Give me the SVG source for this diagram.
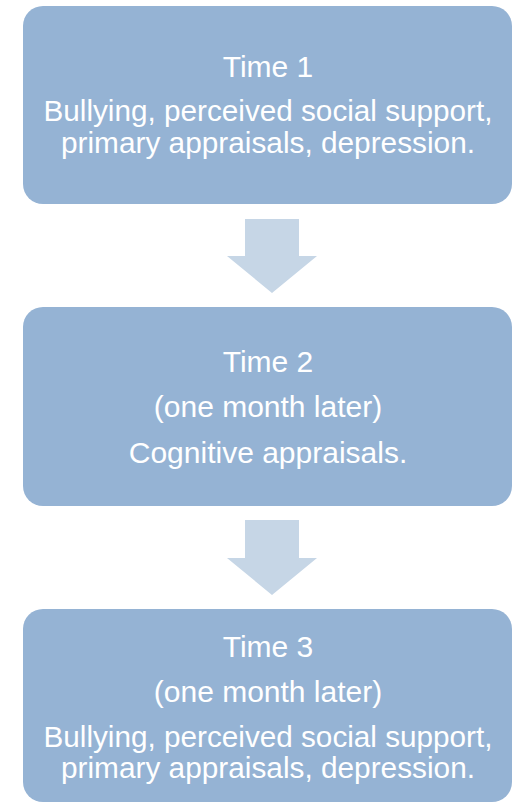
<svg xmlns="http://www.w3.org/2000/svg" width="531" height="802" viewBox="0 0 531 802">
<style>
.box{fill:#95B3D4;}
.arrow{fill:#C6D6E6;}
text{font-family:"Liberation Sans",Arial,sans-serif;font-size:30px;fill:#FFFFFF;text-anchor:middle;}
</style>
<rect width="531" height="802" fill="#FFFFFF"/>
<g id="connectors">
<polygon class="arrow" points="245,219 299,219 299,256 317,256 272,293 227,256 245,256"/>
<polygon class="arrow" points="245,520 299,520 299,558 317,558 272,595 227,558 245,558"/>
</g>
<g id="node-time1">
<rect class="box" x="23" y="6" width="489" height="198" rx="20" ry="20"/>
<text x="268" y="77">Time 1</text>
<text x="268" y="121" textLength="449" lengthAdjust="spacingAndGlyphs">Bullying, perceived social support,</text>
<text x="268" y="153" textLength="414" lengthAdjust="spacingAndGlyphs">primary appraisals, depression.</text>
</g>
<g id="node-time2">
<rect class="box" x="23" y="307" width="489" height="199" rx="20" ry="20"/>
<text x="268" y="372">Time 2</text>
<text x="268" y="417">(one month later)</text>
<text x="268" y="463">Cognitive appraisals.</text>
</g>
<g id="node-time3">
<rect class="box" x="23" y="609" width="489" height="193" rx="20" ry="20"/>
<text x="268" y="657">Time 3</text>
<text x="268" y="702">(one month later)</text>
<text x="268" y="747" textLength="449" lengthAdjust="spacingAndGlyphs">Bullying, perceived social support,</text>
<text x="268" y="778" textLength="414" lengthAdjust="spacingAndGlyphs">primary appraisals, depression.</text>
</g>
</svg>
